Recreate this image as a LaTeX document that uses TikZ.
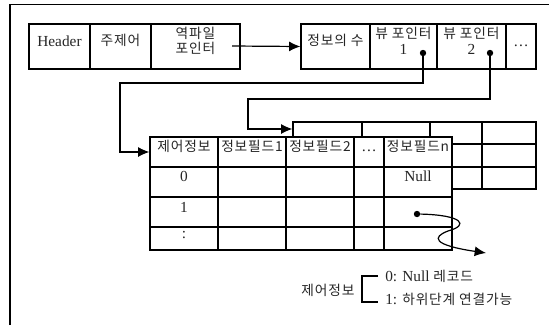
\documentclass[tikz,border=0pt]{standalone}
\usepackage{fontspec}
\setmainfont{Liberation Serif}
\newfontfamily\kr[LetterSpace=6]{Noto Sans CJK KR}
\usetikzlibrary{arrows.meta,fit}
\newcommand\lt{\rmfamily\fontsize{11.5}{11.5}\selectfont}
\newcommand\kt{\kr\fontsize{10.3}{11.5}\selectfont}
\newcommand\tcell[6]{\node[cell, fit={(#2,#3) (#4,#5)}] (#1) {#6};}
\tikzset{
  cell/.style={draw, line width=0.9pt, fill=white, inner sep=0pt, align=center, text=black!85, font=\kt},
  conn/.style={line width=0.9pt, -{Latex[length=8.5pt,width=7.5pt]}},
  dotn/.style={circle, fill=black, inner sep=0pt, minimum size=4.8pt},
  txt/.style={text=black!85, inner sep=0pt},
}
\begin{document}
\begin{tikzpicture}[x=0.75pt,y=-0.75pt]
\useasboundingbox (0,0) rectangle (549,325);
% outer frame (cropped)
\draw[line width=1pt] (10,325) -- (10,4.5) -- (549,4.5);
% top row
\tcell{hdr}{29}{24}{90}{69}{\lt Header}
\tcell{sub}{90}{24}{151}{69}{주제어}
\tcell{inv}{151}{24}{240}{69}{역파일\\포인터}
\tcell{cnt}{301}{24}{370}{69}{정보의 수}
\tcell{vp1}{370}{24}{437}{69}{뷰 포인터\\{\lt 1}}
\tcell{vp2}{437}{24}{506}{69}{뷰 포인터\\{\lt 2}}
\tcell{etc}{506}{24}{536}{69}{\lt\ldots}
\node[dotn] (d1) at (423,53) {};
\node[dotn] (d2) at (490,53) {};
\coordinate (ip) at (232,46);
\draw[conn] (ip) -- (cnt.west);
% back table
\tcell{b11}{293}{122}{362}{144}{}
\tcell{b12}{362}{122}{430}{144}{}
\tcell{b13}{430}{122}{482}{144}{}
\tcell{b14}{482}{122}{536}{144}{}
\tcell{b21}{293}{144}{362}{167}{}
\tcell{b22}{362}{144}{430}{167}{}
\tcell{b23}{430}{144}{482}{167}{}
\tcell{b24}{482}{144}{536}{167}{}
\tcell{b31}{293}{167}{362}{189}{}
\tcell{b32}{362}{167}{430}{189}{}
\tcell{b33}{430}{167}{482}{189}{}
\tcell{b34}{482}{167}{536}{189}{}
% front table
\tcell{f11}{150}{137}{218}{167}{제어정보}
\tcell{f12}{218}{137}{286}{167}{정보필드1}
\tcell{f13}{286}{137}{354}{167}{정보필드2}
\tcell{f14}{354}{137}{384}{167}{\lt\ldots}
\tcell{f15}{384}{137}{452}{167}{정보필드n}
\tcell{f21}{150}{167}{218}{197}{\lt 0}
\tcell{f22}{218}{167}{286}{197}{}
\tcell{f23}{286}{167}{354}{197}{}
\tcell{f24}{354}{167}{384}{197}{}
\tcell{f25}{384}{167}{452}{197}{\lt Null}
\tcell{f31}{150}{197}{218}{227}{\lt 1}
\tcell{f32}{218}{197}{286}{227}{}
\tcell{f33}{286}{197}{354}{227}{}
\tcell{f34}{354}{197}{384}{227}{}
\tcell{f35}{384}{197}{452}{227}{}
\tcell{f41}{150}{227}{218}{250}{\lt :}
\tcell{f42}{218}{227}{286}{250}{}
\tcell{f43}{286}{227}{354}{250}{}
\tcell{f44}{354}{227}{384}{250}{}
\tcell{f45}{384}{227}{452}{250}{}
\node[dotn] (d3) at (417,214) {};
% connectors
\coordinate (k1) at (120,83);
\coordinate (k2) at (248,99);
\draw[conn] (d1) |- (k1) |- (f11.west);
\draw[conn] (d2) |- (k2) |- ([yshift=3pt]b11.west);
\coordinate (e3) at (486,253);
\draw[conn] (d3) .. controls (462,215) and (470,225) .. (448,231)
  .. controls (432,237) and (432,245) .. (e3);
% legend
\node[txt, font=\kt] (lg) at (328,290) {제어정보};
\node[txt, anchor=west] (l0) at (385,276) {\lt 0: Null {\kt 레코드}};
\node[txt, anchor=west] (l1) at (385,299) {\lt 1: {\kt 하위단계 연결가능}};
\draw[line width=0.9pt] (378,276) -- (362,276) -- (362,302) -- (378,302);
\end{tikzpicture}
\end{document}
